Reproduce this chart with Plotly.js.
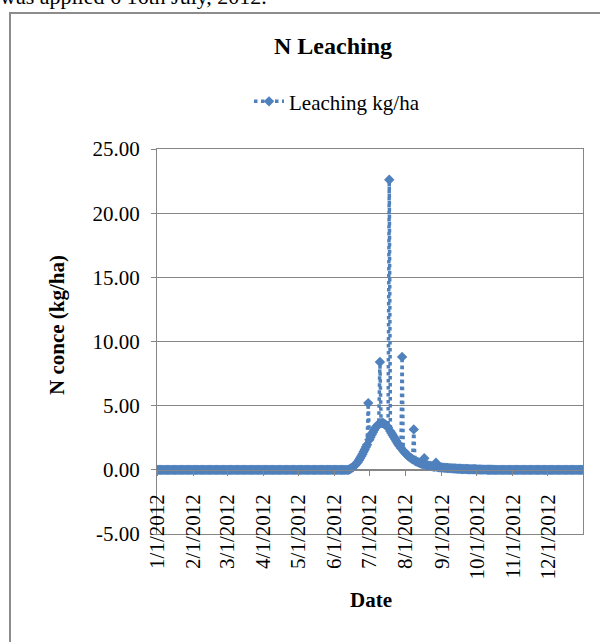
<!DOCTYPE html>
<html>
<head>
<meta charset="utf-8">
<script src="https://cdn.plot.ly/plotly-3.0.1.min.js"></script>
<style>
  html, body { margin: 0; padding: 0; background: #ffffff; }
  #wrap { position: relative; width: 600px; height: 642px; overflow: hidden; }
  #chart { position: absolute; left: 0; top: 0; width: 600px; height: 642px; }
  #frame { position: absolute; left: 9px; top: 12px; width: 700px; height: 700px;
           border: 2px solid #8c8c8c; pointer-events: none; }
  #lead { position: absolute; left: 0; top: -14px; font: 22px/22px "Liberation Serif", serif;
          color: #000; white-space: nowrap; }
</style>
</head>
<body>
<div id="wrap">
  <div id="lead">was applied 6 16th July, 2012.</div>
  <div id="chart"></div>
  <div id="frame"></div>
</div>
<script>
// Daily N leaching (kg/ha) for 2012, one array per month
const jan = [0,0,0,0,0,0,0,0,0,0,0,0,0,0,0,0,0,0,0,0,0,0,0,0,0,0,0,0,0,0,0];
const feb = [0,0,0,0,0,0,0,0,0,0,0,0,0,0,0,0,0,0,0,0,0,0,0,0,0,0,0,0,0];
const mar = [0,0,0,0,0,0,0,0,0,0,0,0,0,0,0,0,0,0,0,0,0,0,0,0,0,0,0,0,0,0,0];
const apr = [0,0,0,0,0,0,0,0,0,0,0,0,0,0,0,0,0,0,0,0,0,0,0,0,0,0,0,0,0,0];
const may = [0,0,0,0,0,0,0,0,0,0,0,0,0,0,0,0,0,0,0,0,0,0,0,0,0,0,0,0,0,0,0];
const jun = [0,0,0,0,0,0,0,0,0,0,0,0,0,0.05,0.1,0.15,0.22,0.3,0.4,0.5,
             0.62,0.75,0.9,1.05,1.22,1.4,1.58,1.77,1.96,5.2];
const jul = [2.35,2.55,2.75,2.93,3.1,3.25,3.38,3.48,3.56,8.4,3.64,3.65,3.63,3.58,3.5,3.4,
             3.28,22.6,3.0,2.85,2.7,2.55,2.4,2.25,2.1,1.96,1.83,1.7,8.8,1.48,1.38];
const aug = [1.28,1.19,1.1,1.02,0.95,0.88,0.82,3.15,0.71,0.66,0.62,0.58,0.54,0.5,0.47,0.44,
             0.9,0.39,0.37,0.35,0.33,0.31,0.29,0.27,0.26,0.24,0.55,0.22,0.21,0.2,0.19];
const sep = [0.18,0.17,0.16,0.15,0.15,0.14,0.13,0.13,0.12,0.11,0.11,0.1,0.1,0.09,0.09,
             0.08,0.08,0.07,0.07,0.07,0.06,0.06,0.06,0.05,0.05,0.05,0.04,0.04,0.04,0.04];
const oct = [0.03,0.03,0.03,0.03,0.02,0.02,0.02,0.02,0.02,0.01,0.01,0.01,0.01,0.01,0.01,
             0,0,0,0,0,0,0,0,0,0,0,0,0,0,0,0];
const nov = [0,0,0,0,0,0,0,0,0,0,0,0,0,0,0,0,0,0,0,0,0,0,0,0,0,0,0,0,0,0];
const dec = [0,0,0,0,0,0,0,0,0,0,0,0,0,0,0,0,0,0,0,0,0,0,0,0,0,0,0,0,0,0,0];

const months = [jan, feb, mar, apr, may, jun, jul, aug, sep, oct, nov, dec];
const monthStarts = ['2012-01-01','2012-02-01','2012-03-01','2012-04-01','2012-05-01','2012-06-01',
                     '2012-07-01','2012-08-01','2012-09-01','2012-10-01','2012-11-01','2012-12-01'];
const monthLabels = ['1/1/2012','2/1/2012','3/1/2012','4/1/2012','5/1/2012','6/1/2012',
                     '7/1/2012','8/1/2012','9/1/2012','10/1/2012','11/1/2012','12/1/2012'];
const yTicks = [-5, 0, 5, 10, 15, 20, 25];
const yTickLabels = ['-5.00','0.00','5.00','10.00','15.00','20.00','25.00'];
const seriesName = 'Leaching kg/ha';

// Build the daily date/value pairs month by month
const dates = [], values = [];
months.forEach((arr, m) => {
  arr.forEach((v, d) => {
    const mm = String(m + 1).padStart(2, '0');
    const dd = String(d + 1).padStart(2, '0');
    dates.push('2012-' + mm + '-' + dd);
    values.push(v);
  });
});

const blue = '#4F81BD';
const grey = '#868686';
const serif = 'Liberation Serif, Times New Roman, serif';
const xRange = ['2012-01-01', '2012-12-31'];

const traces = [
  {
    x: dates, y: values, name: seriesName, type: 'scatter', mode: 'lines+markers',
    xaxis: 'x', yaxis: 'y',
    line: { color: blue, width: 3.5, dash: 'dot' },
    marker: { symbol: 'diamond', size: 8, color: blue },
    hoverinfo: 'x+y'
  },
  {
    // carries the date axis that sits on the zero line
    x: [dates[0]], y: [null], xaxis: 'x2', yaxis: 'y', type: 'scatter', mode: 'markers',
    showlegend: false, hoverinfo: 'skip'
  }
];

const layout = {
  width: 600, height: 642,
  margin: { l: 157, r: 17, t: 149, b: 108, pad: 0 },
  paper_bgcolor: 'rgba(0,0,0,0)', plot_bgcolor: '#ffffff',
  font: { family: serif, size: 21, color: '#000000' },
  title: {
    text: '<b>N Leaching</b>', font: { family: serif, size: 24, color: '#000' },
    xref: 'container', yref: 'container', x: 333 / 600, xanchor: 'center',
    y: 1 - 46 / 642, yanchor: 'middle'
  },
  showlegend: true,
  legend: {
    orientation: 'h', x: (249 - 157) / 426, xanchor: 'left',
    y: (534 - 101.7) / 385, yanchor: 'middle',
    font: { family: serif, size: 21, color: '#000' },
    bgcolor: 'rgba(0,0,0,0)'
  },
  xaxis: {
    type: 'date', range: xRange, showline: true, mirror: true, linecolor: grey, linewidth: 1,
    showgrid: false, zeroline: false, showticklabels: false, ticks: ''
  },
  xaxis2: {
    type: 'date', range: xRange, overlaying: 'x', anchor: 'free', position: 5 / 30, side: 'bottom',
    showline: true, linecolor: grey, linewidth: 1, showgrid: false, zeroline: false,
    tickmode: 'array', tickvals: monthStarts, ticktext: monthLabels,
    ticks: 'outside', ticklen: 5, tickcolor: grey, tickwidth: 1, tickangle: -90,
    tickfont: { family: serif, size: 21, color: '#000' }, ticklabelstandoff: 10
  },
  yaxis: {
    range: [-5, 25], tickmode: 'array', tickvals: yTicks, ticktext: yTickLabels,
    ticks: 'outside', ticklen: 5, tickcolor: grey, tickwidth: 1,
    showline: true, mirror: true, linecolor: grey, linewidth: 1,
    showgrid: true, gridcolor: grey, gridwidth: 1, zeroline: false,
    tickfont: { family: serif, size: 21, color: '#000' }, ticklabelstandoff: 7
  },
  annotations: [
    {
      text: '<b>N conce (kg/ha)</b>', textangle: -90, xref: 'paper', yref: 'paper',
      x: (57 - 157) / 426, y: (534 - 325) / 385, xanchor: 'center', yanchor: 'middle',
      showarrow: false, font: { family: serif, size: 21, color: '#000' }
    },
    {
      text: '<b>Date</b>', xref: 'paper', yref: 'paper',
      x: (371 - 157) / 426, y: (534 - 600) / 385, xanchor: 'center', yanchor: 'middle',
      showarrow: false, font: { family: serif, size: 21, color: '#000' }
    }
  ]
};

Plotly.newPlot('chart', traces, layout, { displayModeBar: false, staticPlot: true });
</script>
</body>
</html>
